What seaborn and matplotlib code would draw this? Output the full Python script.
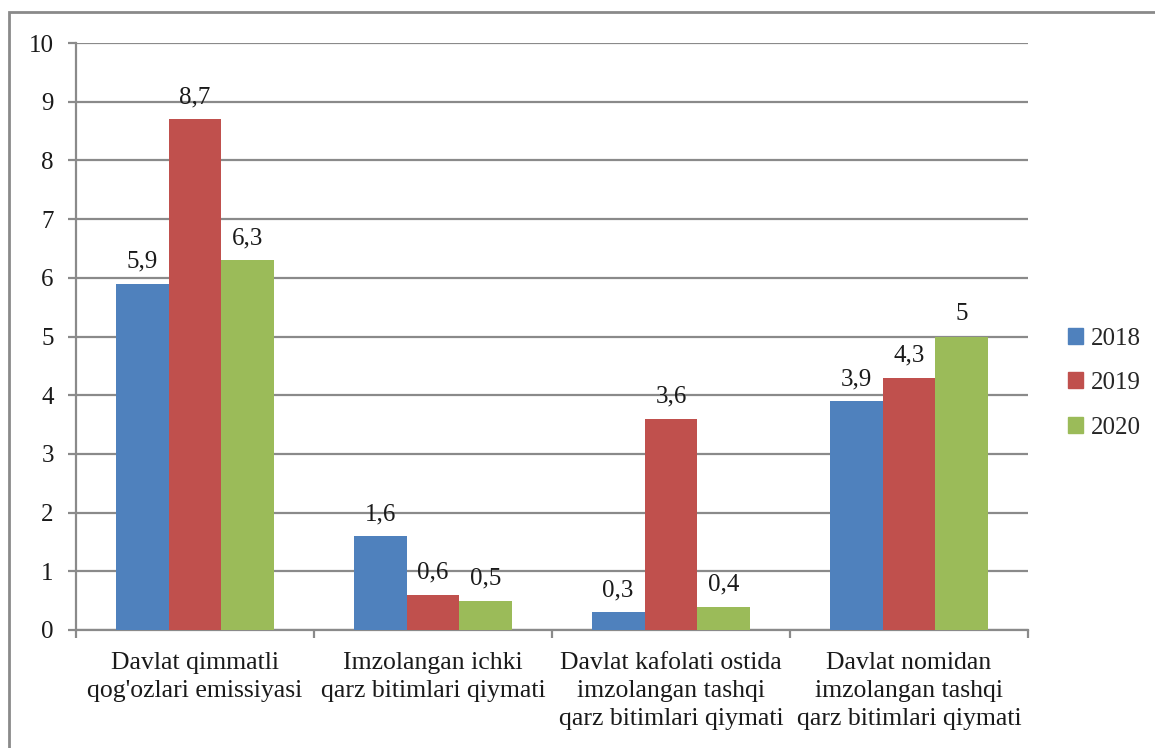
import matplotlib
matplotlib.use("Agg")
import matplotlib.pyplot as plt
import matplotlib.patches as mpatches
import seaborn as sns
import pandas as pd

categories = [
    "Davlat qimmatli\nqog'ozlari emissiyasi",
    "Imzolangan ichki\nqarz bitimlari qiymati",
    "Davlat kafolati ostida\nimzolangan tashqi\nqarz bitimlari qiymati",
    "Davlat nomidan\nimzolangan tashqi\nqarz bitimlari qiymati",
]
years = ["2018", "2019", "2020"]
values_2018 = [5.9, 1.6, 0.3, 3.9]
values_2019 = [8.7, 0.6, 3.6, 4.3]
values_2020 = [6.3, 0.5, 0.4, 5.0]
y_ticks = list(range(0, 11))

colors = ["#4F81BD", "#C0504D", "#9BBB59"]

rows = []
for yr, vals in zip(years, [values_2018, values_2019, values_2020]):
    for cat, v in zip(categories, vals):
        rows.append({"category": cat, "year": yr, "value": v})
df = pd.DataFrame(rows)

sns.set_style("white")
plt.rcParams["font.family"] = ["Liberation Serif", "DejaVu Serif"]

fig = plt.figure(figsize=(11.55, 7.48), dpi=100)
ax = fig.add_axes([76 / 1155, 1 - 630 / 748, (1028 - 76) / 1155, (630 - 43) / 748])

sns.barplot(data=df, x="category", y="value", hue="year", order=categories,
            hue_order=years, palette=colors, width=0.667, gap=0,
            saturation=1, errorbar=None, ax=ax, edgecolor="none", zorder=3)

for cont in ax.containers:
    labels = [f"{b.get_height():g}".replace(".", ",") for b in cont]
    ax.bar_label(cont, labels=labels, padding=8, fontsize=18, color="#1a1a1a")

ax.set_ylim(0, 10)
ax.set_xlim(-0.5, len(categories) - 0.5)
ax.set_yticks(y_ticks)
ax.yaxis.grid(True, color="#8a8a8a", linewidth=1.6, zorder=0)
ax.set_axisbelow(True)
ax.set_xlabel("")
ax.set_ylabel("")

for side in ["top", "right"]:
    ax.spines[side].set_visible(False)
for side in ["left", "bottom"]:
    ax.spines[side].set_color("#8a8a8a")
    ax.spines[side].set_linewidth(1.6)

ax.tick_params(axis="y", which="major", length=6, width=1.6, color="#8a8a8a",
               labelsize=18, pad=10, labelcolor="#1a1a1a", left=True)
ax.set_xticks(range(len(categories)))
ax.set_xticklabels(categories, fontsize=18.5, color="#1a1a1a", linespacing=1.36,
                   va="top")
ax.tick_params(axis="x", which="major", length=0, pad=16)
ax.set_xticks([i - 0.5 for i in range(len(categories) + 1)], minor=True)
ax.tick_params(axis="x", which="minor", length=6, width=1.6, color="#8a8a8a",
               bottom=True)

handles = [mpatches.Patch(color=c, label=y) for c, y in zip(colors, years)]
ax.get_legend().remove()
fig.legend(handles=handles, loc="center left", bbox_to_anchor=(1058 / 1155, 1 - 383 / 748),
           frameon=False, fontsize=18, handlelength=0.6, handleheight=0.6,
           handletextpad=0.3, labelspacing=0.9, borderaxespad=0)

# outer chart frame
fig.add_artist(mpatches.Rectangle((9 / 1155, -0.05), 1.2, 1 - 12 / 748 + 0.05,
                                  transform=fig.transFigure, fill=False,
                                  edgecolor="#8a8a8a", linewidth=2))

fig.savefig("out.png", dpi=100)
